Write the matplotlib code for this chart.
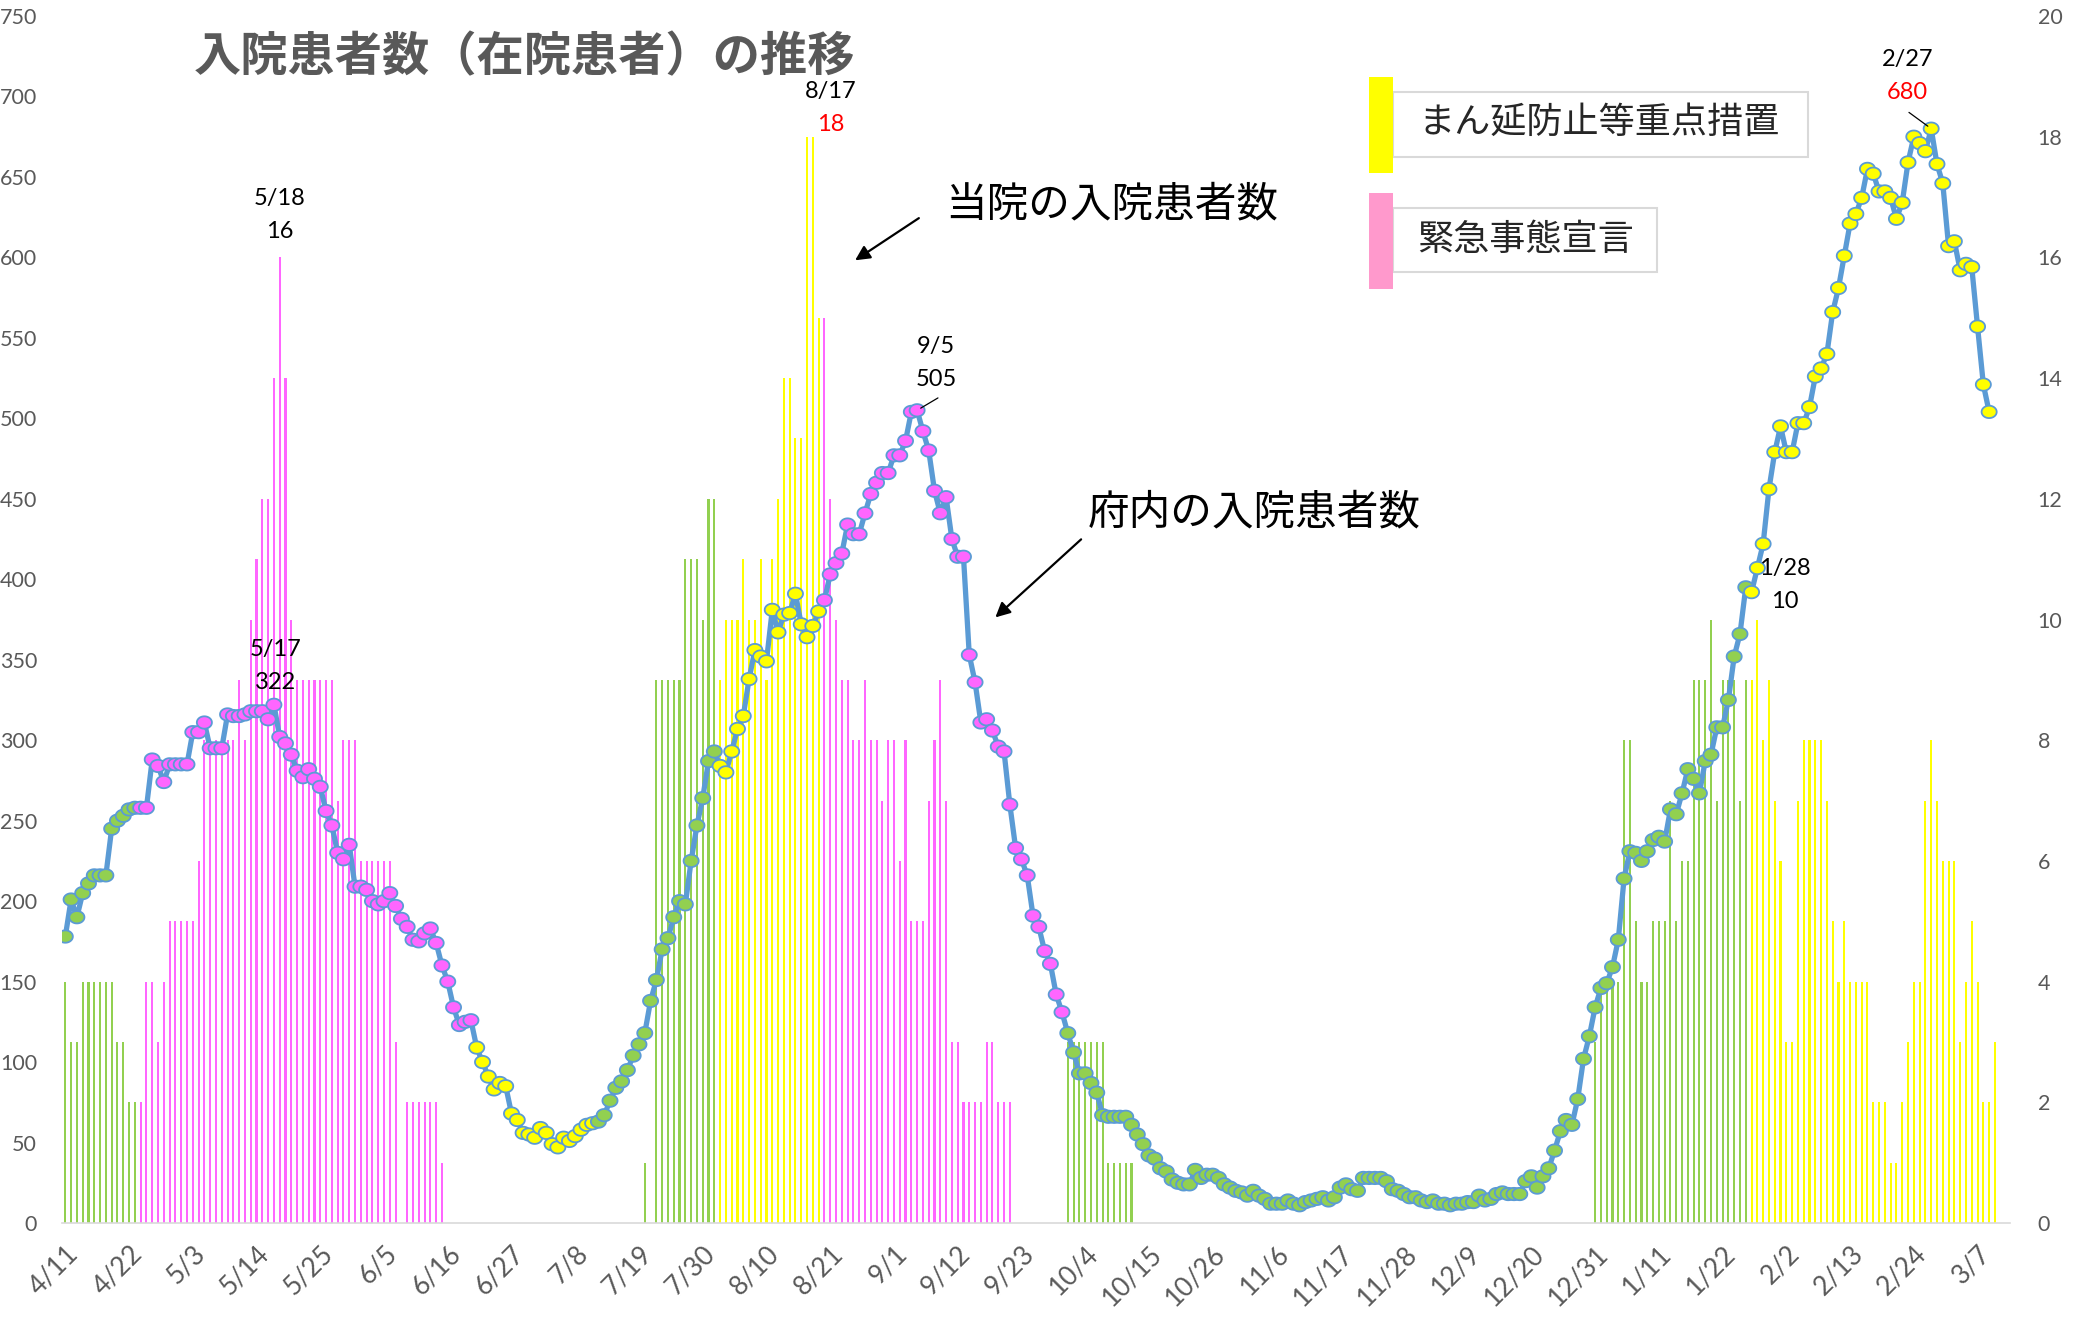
import numpy as np
import pandas as pd
import matplotlib
matplotlib.use("Agg")
import matplotlib.pyplot as plt
from matplotlib.path import Path
from matplotlib.markers import MarkerStyle
from matplotlib.patches import Rectangle

# ---------------- data ----------------
start_date = "2021-04-11"

# 府内の入院患者数 (left axis), one value per day from 4/11
pref_inpatients = [
    178, 201, 190, 205, 211, 216, 216, 216, 245, 250,
    253, 257, 258, 258, 258, 288, 284, 274, 285, 285,
    285, 285, 305, 305, 311, 295, 295, 295, 316, 315,
    315, 316, 318, 318, 318, 313, 322, 302, 298, 291,
    281, 277, 282, 276, 271, 256, 247, 230, 226, 235,
    209, 209, 207, 200, 198, 200, 205, 197, 189, 184,
    176, 175, 180, 183, 174, 160, 150, 134, 123, 125,
    126, 109, 100, 91, 83, 87, 85, 68, 64, 56,
    55, 53, 59, 56, 49, 47, 53, 51, 54, 58,
    61, 62, 63, 67, 76, 84, 88, 95, 104, 111,
    118, 138, 151, 170, 177, 190, 200, 198, 225, 247,
    264, 287, 293, 284, 280, 293, 307, 315, 338, 356,
    352, 349, 381, 367, 378, 379, 391, 372, 364, 371,
    380, 387, 403, 410, 416, 434, 428, 428, 441, 453,
    460, 466, 466, 477, 477, 486, 504, 505, 492, 480,
    455, 441, 451, 425, 414, 414, 353, 336, 311, 313,
    306, 296, 293, 260, 233, 226, 216, 191, 184, 169,
    161, 142, 131, 118, 106, 93, 93, 87, 81, 67,
    66, 66, 66, 66, 61, 55, 49, 42, 40, 34,
    32, 27, 25, 24, 24, 33, 28, 30, 30, 28,
    24, 22, 20, 19, 17, 20, 17, 15, 12, 12,
    12, 14, 12, 11, 13, 14, 15, 16, 14, 16,
    22, 24, 21, 20, 28, 28, 28, 28, 26, 21,
    20, 18, 16, 16, 14, 13, 14, 12, 12, 11,
    12, 12, 13, 13, 17, 14, 15, 18, 19, 18,
    18, 18, 26, 29, 22, 29, 34, 45, 57, 64,
    61, 77, 102, 116, 134, 146, 149, 159, 176, 214,
    231, 230, 225, 231, 238, 240, 237, 257, 254, 267,
    282, 276, 267, 287, 291, 308, 308, 325, 352, 366,
    395, 392, 407, 422, 456, 479, 495, 479, 479, 497,
    497, 507, 526, 531, 540, 566, 581, 601, 621, 627,
    637, 655, 652, 641, 641, 637, 624, 634, 659, 675,
    671, 666, 680, 658, 646, 607, 610, 592, 596, 594,
    557, 521, 504,
]

# 当院の入院患者数 (right axis), one value per day from 4/11
hosp_inpatients = (
    [4, 3, 3, 4, 4, 4, 4, 4, 4, 3,
     3, 2, 2, 2, 4, 4, 3, 4, 5, 5,
     5, 5, 5, 6, 8, 8, 8, 8, 8, 8,
     9, 8, 10, 11, 12, 12, 14, 16, 14, 10,
     9, 9, 9, 9, 9, 9, 9, 7, 8, 8,
     8, 6, 6, 6, 6, 6, 6, 3, 0, 2,
     2, 2, 2, 2, 2, 1, 0, 0, 0, 0]
    + [0] * 30
    + [1, 0, 9, 9, 9, 9, 9, 11, 11, 11,
       10, 12, 12, 9, 10, 10, 10, 11, 10, 10,
       11, 9, 11, 12, 14, 14, 13, 13, 18, 18,
       15, 15, 12, 10, 9, 9, 8, 8, 9, 8,
       8, 7, 8, 8, 6, 8, 5, 5, 5, 7,
       8, 9, 7, 3, 3, 2, 2, 2, 2, 3,
       3, 2, 2, 2, 0, 0, 0, 0, 0, 0,
       0, 0, 0, 3, 3, 3, 3, 3, 3, 3,
       1, 1, 1, 1, 1]
    + [0] * 79
    + [3, 4, 4, 4, 4, 8,
       8, 5, 4, 4, 5, 5, 5, 7, 5, 6,
       6, 9, 9, 9, 10, 7, 9, 9, 9, 7,
       9, 9, 10, 8, 9, 7, 6, 3, 3, 7,
       8, 8, 8, 8, 7, 5, 4, 5, 4, 4,
       4, 4, 2, 2, 2, 1, 1, 2, 3, 4,
       4, 7, 8, 7, 6, 6, 6, 3, 4, 5,
       4, 2, 2, 3]
)

# periods: (start, end, state)
periods = [
    ("2021-04-11", "2021-04-23", "none"),
    ("2021-04-24", "2021-06-20", "emergency"),
    ("2021-06-21", "2021-07-11", "semi"),
    ("2021-07-12", "2021-08-01", "none"),
    ("2021-08-02", "2021-08-19", "semi"),
    ("2021-08-20", "2021-09-30", "emergency"),
    ("2021-10-01", "2022-01-26", "none"),
    ("2022-01-27", "2022-03-10", "semi"),
]
state_colors = {"none": "#92D050", "emergency": "#FF66FF", "semi": "#FFFF00"}

tick_step = 11

# ---------------- build ----------------
n_days = len(hosp_inpatients)
dates = pd.date_range(start_date, periods=n_days, freq="D")
day_idx = np.arange(n_days)
line_vals = np.full(n_days, np.nan)
line_vals[:len(pref_inpatients)] = pref_inpatients

day_color = []
for d in dates:
    c = "#92D050"
    for s, e, st in periods:
        if pd.Timestamp(s) <= d <= pd.Timestamp(e):
            c = state_colors[st]
    day_color.append(c)
day_color = np.array(day_color)

W, H = 2073, 1326
fig = plt.figure(figsize=(W / 100, H / 100), dpi=100)
fig.patch.set_facecolor("white")

ax1 = fig.add_axes([62 / W, 1 - 1223 / H, (2010 - 62) / W, (1223 - 16) / H])
ax2 = ax1.twinx()

GRAY = "#595959"
NUMF = ["Lato", "DejaVu Sans"]
JPF = ["Noto Sans CJK JP", "DejaVu Sans"]

# bars (right axis)
ax1.bar(day_idx, hosp_inpatients, width=0.36, color=day_color, linewidth=0, zorder=2)
ax1.set_ylim(0, 20)
ax1.set_yticks(np.arange(0, 21, 2))
ax1.yaxis.tick_right()
ax1.tick_params(axis="y", length=0, pad=20, labelsize=15.5, labelcolor=GRAY)

# line (left axis)
t = np.linspace(0, 2 * np.pi, 60)
ell = Path(np.column_stack([np.cos(t), 0.82 * np.sin(t)]), closed=True)
mk = MarkerStyle(ell)
ax2.plot(day_idx, line_vals, color="#5B9BD5", lw=3.8, zorder=3,
         solid_joinstyle="round", solid_capstyle="round")
valid = ~np.isnan(line_vals)
ax2.scatter(day_idx[valid], line_vals[valid], s=118, marker=mk,
            facecolors=day_color[valid], edgecolors="#5B9BD5", linewidths=1.3, zorder=4)
ax2.set_ylim(0, 750)
ax2.set_yticks(np.arange(0, 751, 50))
ax2.yaxis.tick_left()
ax2.tick_params(axis="y", length=0, pad=18, labelsize=15.5, labelcolor=GRAY)

ax1.set_xlim(-0.57, 335.6)
ticks = np.arange(0, n_days, tick_step)
ticks = ticks[ticks <= 330]
ax1.set_xticks(ticks)
ax1.set_xticklabels([f"{dates[i].month}/{dates[i].day}" for i in ticks],
                    rotation=45, ha="right", va="top", rotation_mode="anchor")
ax1.tick_params(axis="x", length=0, pad=13, labelsize=19, labelcolor=GRAY)

for a in (ax1, ax2):
    for sp in ["top", "left", "right", "bottom"]:
        a.spines[sp].set_visible(False)
ax1.spines["bottom"].set_visible(True)
ax1.spines["bottom"].set_color("#D9D9D9")
ax1.spines["bottom"].set_linewidth(1.2)
for lab in ax1.get_xticklabels() + ax1.get_yticklabels() + ax2.get_yticklabels():
    lab.set_fontfamily(NUMF)

# ---------------- annotations ----------------
def two_line(ax, x, y, top, bottom, dx, dy1, dy2, c1="black", c2="black"):
    ax.annotate(top, xy=(x, y), xytext=(dx, dy1), textcoords="offset points",
                ha="center", va="center", fontsize=17, color=c1, family=NUMF, zorder=6)
    ax.annotate(bottom, xy=(x, y), xytext=(dx, dy2), textcoords="offset points",
                ha="center", va="center", fontsize=17, color=c2, family=NUMF, zorder=6)

two_line(ax2, 37, hosp_inpatients[37] * 37.5, "5/18", "16", 0, 42.5, 18.7)
two_line(ax2, 36, pref_inpatients[36], "5/17", "322", 1, 39.5, 16.4)
two_line(ax2, 128, hosp_inpatients[128] * 37.5, "8/17", "18", 17, 32.8, 9, c2="#FF0000")
two_line(ax2, 147, pref_inpatients[147], "9/5", "505", 13.7, 46, 22.3)
two_line(ax2, 292, hosp_inpatients[292] * 37.5, "1/28", "10", 20, 36.7, 13)
two_line(ax2, 322, pref_inpatients[322], "2/27", "680", -17, 49.7, 26, c2="#FF0000")

ax2.annotate("", xy=(147, pref_inpatients[147]), xytext=(15, 8.9), textcoords="offset points",
             arrowprops=dict(arrowstyle="-", color="black", lw=0.9, shrinkA=0, shrinkB=3), zorder=6)
ax2.annotate("", xy=(322, pref_inpatients[322]), xytext=(-16, 11.7), textcoords="offset points",
             arrowprops=dict(arrowstyle="-", color="black", lw=0.9, shrinkA=0, shrinkB=3), zorder=6)

ax2.text(151.9, 632.6, "当院の入院患者数", fontsize=30, family=JPF, ha="left", va="center",
         color="black", zorder=6)
ax2.annotate("", xy=(136.3, 598.2), xytext=(147.3, 624.4),
             arrowprops=dict(arrowstyle="-|>", color="black", lw=1.6, mutation_scale=22,
                             shrinkA=0, shrinkB=0), zorder=6)
ax2.text(176.5, 441.2, "府内の入院患者数", fontsize=30, family=JPF, ha="left", va="center",
         color="black", zorder=6)
ax2.annotate("", xy=(160.5, 376.3), xytext=(175.3, 424.8),
             arrowprops=dict(arrowstyle="-|>", color="black", lw=1.6, mutation_scale=22,
                             shrinkA=0, shrinkB=0), zorder=6)

# title
fig.text(525 / W, 1 - 57 / H, "入院患者数（在院患者）の推移", fontsize=34, fontweight="bold",
         family=JPF, color=GRAY, ha="center", va="center")

# legend-like boxes
def fx(x):
    return x / W

def fy(y):
    return 1 - y / H

fig.patches.append(Rectangle((fx(1393), fy(157)), fx(1808) - fx(1393), fy(92) - fy(157),
                             transform=fig.transFigure, facecolor="white",
                             edgecolor="#D9D9D9", lw=1.5, zorder=5))
fig.patches.append(Rectangle((fx(1369), fy(173)), fx(1393) - fx(1369), fy(77) - fy(173),
                             transform=fig.transFigure, facecolor="#FFFF00",
                             edgecolor="none", zorder=6))
fig.text(fx(1418), fy(123), "まん延防止等重点措置", fontsize=26, family=JPF,
         ha="left", va="center", color="#262626", zorder=7)

fig.patches.append(Rectangle((fx(1393), fy(272)), fx(1657) - fx(1393), fy(208) - fy(272),
                             transform=fig.transFigure, facecolor="white",
                             edgecolor="#D9D9D9", lw=1.5, zorder=5))
fig.patches.append(Rectangle((fx(1369), fy(289)), fx(1393) - fx(1369), fy(193) - fy(289),
                             transform=fig.transFigure, facecolor="#FF99CC",
                             edgecolor="none", zorder=6))
fig.text(fx(1417), fy(240), "緊急事態宣言", fontsize=26, family=JPF,
         ha="left", va="center", color="#262626", zorder=7)

fig.savefig("out.png", dpi=100, facecolor="white")
